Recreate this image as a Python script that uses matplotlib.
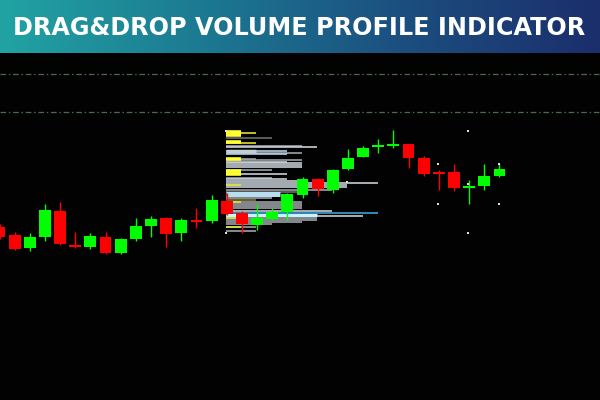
import numpy as np
import matplotlib
matplotlib.use("Agg")
import matplotlib.pyplot as plt
from matplotlib.colors import LinearSegmentedColormap

# ---------------- data ----------------
title = "DRAG&DROP VOLUME PROFILE INDICATOR"

opens  = [1.08733, 1.08650, 1.08523, 1.08633, 1.08893, 1.08546, 1.08527, 1.08633, 1.08470, 1.08610,
          1.08740, 1.08823, 1.08673, 1.08796, 1.08793, 1.08990, 1.08873, 1.08750, 1.08810, 1.08883,
          1.09050, 1.09210, 1.09100, 1.09307, 1.09433, 1.09537, 1.09547, 1.09557, 1.09417, 1.09276,
          1.09277, 1.09130, 1.09143, 1.09240]
highs  = [1.08760, 1.08680, 1.08670, 1.08960, 1.08983, 1.08683, 1.08670, 1.08680, 1.08625, 1.08823,
          1.08843, 1.08835, 1.08820, 1.08920, 1.09050, 1.09070, 1.08890, 1.08960, 1.08920, 1.09070,
          1.09233, 1.09220, 1.09310, 1.09510, 1.09540, 1.09610, 1.09700, 1.09565, 1.09440, 1.09300,
          1.09360, 1.09200, 1.09360, 1.09367]
lows   = [1.08610, 1.08500, 1.08493, 1.08593, 1.08555, 1.08520, 1.08515, 1.08465, 1.08460, 1.08593,
          1.08633, 1.08533, 1.08593, 1.08720, 1.08770, 1.08850, 1.08673, 1.08700, 1.08800, 1.08800,
          1.09020, 1.09040, 1.09070, 1.09300, 1.09430, 1.09467, 1.09520, 1.09323, 1.09240, 1.09100,
          1.09093, 1.08960, 1.09100, 1.09230]
closes = [1.08633, 1.08510, 1.08633, 1.08900, 1.08560, 1.08540, 1.08640, 1.08473, 1.08610, 1.08740,
          1.08810, 1.08660, 1.08800, 1.08790, 1.09000, 1.08860, 1.08760, 1.08823, 1.08883, 1.09060,
          1.09207, 1.09110, 1.09300, 1.09423, 1.09523, 1.09543, 1.09553, 1.09423, 1.09260, 1.09270,
          1.09123, 1.09136, 1.09240, 1.09307]

# dashed horizontal levels
levels = [1.10265, 1.09885]

# volume profile (price level, end bar index, kind)
prof_start = 14.95
prof_levels = [1.09670, 1.09680, 1.09655, 1.09617, 1.09573, 1.09585, 1.09543, 1.09527,
               1.09495, 1.09495, 1.09473, 1.09457, 1.09415, 1.09415, 1.09400, 1.09383,
               1.09367, 1.09350, 1.09330, 1.09305, 1.09295, 1.09260, 1.09260, 1.09223,
               1.09208, 1.09190, 1.09170, 1.09150, 1.09150, 1.09130, 1.09103, 1.09080,
               1.09065, 1.09025, 1.09003, 1.08985, 1.08985, 1.08965, 1.08940, 1.08920,
               1.08893, 1.08870, 1.08855, 1.08837, 1.08825, 1.08825, 1.08800, 1.08780,
               1.08760, 1.08727, 1.08727, 1.08687]
prof_ends = [16.93, 15.94, 15.94, 17.97, 16.93, 15.94, 19.95, 20.94,
             16.93, 18.96, 19.95, 18.96, 15.94, 16.93, 19.95, 18.96,
             19.95, 19.95, 19.95, 17.97, 15.94, 15.94, 18.96, 17.97,
             18.96, 19.95, 24.98, 22.92, 15.94, 22.92, 21.93, 19.95,
             18.52, 17.97, 16.93, 19.95, 15.94, 19.95, 19.95, 19.95,
             21.93, 24.98, 20.94, 23.99, 20.94, 15.94, 20.94, 19.95,
             17.97, 16.93, 15.94, 16.93]
prof_kinds = ["yl", "yb", "yb", "dg", "yl", "yb", "g", "lg",
              "lgb", "lb", "g", "lb", "yb", "g", "g", "lg",
              "lg", "lg", "lg", "g", "yb", "yb", "lg", "g",
              "lg", "lg", "lg", "lg", "yl", "lg", "g", "dg",
              "lbb", "g", "ol", "g", "yl", "g", "g", "g",
              "lg", "c", "pcb", "lg", "g", "yl", "g", "g",
              "g", "g", "yl", "g"]

# white marker dots (bar index, price)
dot_x = [30.95, 28.95, 32.95, 28.95, 32.95, 30.95, 30.95, 22.95, 14.95, 14.95]
dot_y = [1.09693, 1.09360, 1.09360, 1.08960, 1.08960, 1.08673, 1.09160, 1.09180, 1.09690, 1.08675]

# ---------------- styles ----------------
BULL = "#00ff00"
BEAR = "#ff0000"
kind_style = {
    "yb":  ("#ffff33", 2.6, 4),
    "yl":  ("#e8e830", 1.15, 2),
    "dg":  ("#707070", 1.15, 2),
    "g":   ("#a4aab0", 1.15, 2),
    "lg":  ("#ccd6de", 1.15, 2),
    "lgb": ("#c4ccd4", 2.5, 3),
    "lb":  ("#b8d8ea", 1.15, 2),
    "lbb": ("#b8dcf0", 3.6, 3),
    "c":   ("#3aa8e0", 1.15, 2.5),
    "pcb": ("#c8f4ff", 2.2, 3),
    "ol":  ("#807a30", 1.15, 2),
}

W, H = 600, 400
fig = plt.figure(figsize=(W / 100, H / 100), dpi=100, facecolor="#020202")

px_per_bar = 15.15
x0 = 0.5 / px_per_bar
x1 = x0 + W / px_per_bar
ax = fig.add_axes([0, 0, 1, 1])
ax.set_facecolor("#020202")
ax.set_xlim(x0, x1)
ax.set_ylim(1.0700, 1.1100)
ax.axis("off")

# dashed levels
for lv in levels:
    ax.axhline(lv, color="#4a6b4a", lw=0.9, ls=(0, (4.5, 2.2, 1.2, 2.2)), zorder=1)

# volume profile
for lvl, end, kind in zip(prof_levels, prof_ends, prof_kinds):
    c, lw, z = kind_style[kind]
    ax.hlines(lvl, prof_start, end, colors=c, lw=lw, zorder=z)

# candles
for i, (o, h, l, c) in enumerate(zip(opens, highs, lows, closes)):
    col = BULL if c >= o else BEAR
    ax.vlines(i, l, h, colors=col, lw=1.0, zorder=5)
    bot = min(o, c)
    hgt = max(abs(c - o), 0.00016)
    if abs(c - o) < 0.00016:
        bot = (o + c) / 2 - 0.00008
    ax.bar(i, hgt, bottom=bot, width=0.78, color=col, edgecolor="none", zorder=6)

# white dots
ax.scatter(dot_x, dot_y, s=3.5, marker="s", color="#e0e0e0", linewidths=0, zorder=7)

# banner
bh = 53 / H
bax = fig.add_axes([0, 1 - bh, 1, bh])
bax.axis("off")
cmap = LinearSegmentedColormap.from_list("ban", ["#21a3a3", "#1c7a92", "#1b4f80", "#1b2e6c"])
grad = np.linspace(0, 1, 256).reshape(1, -1)
bax.imshow(grad, aspect="auto", cmap=cmap, extent=(0, 1, 0, 1))
bax.set_xlim(0, 1)
bax.set_ylim(0, 1)

t = bax.text(0.4983, 0.48, title, color="white", fontsize=19, fontweight="bold",
             family="DejaVu Sans", ha="center", va="center")
fig.canvas.draw()
wpx = t.get_window_extent().width
t.set_fontsize(19 * 568 / wpx)

fig.savefig("out.png", dpi=100, facecolor=fig.get_facecolor())
